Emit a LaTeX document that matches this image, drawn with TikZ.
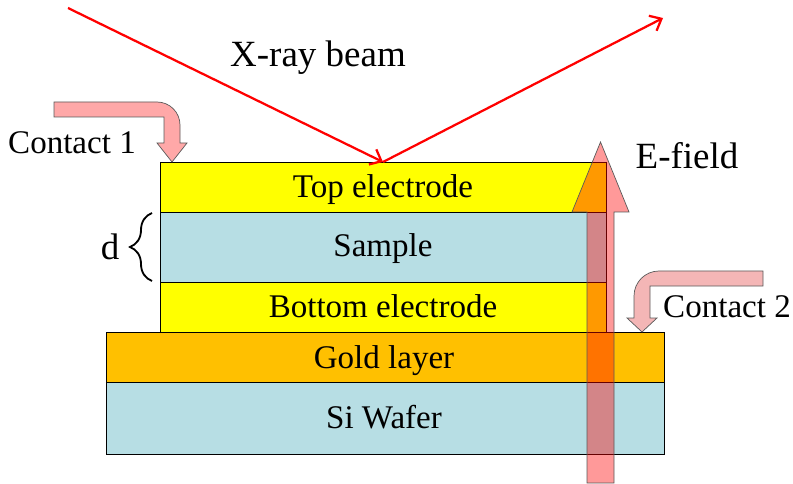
\documentclass[tikz,border=0pt]{standalone}
\usepackage{fontspec}
\setmainfont{Liberation Serif}
\newfontfamily\serifa{Liberation Serif}
\usepackage{xcolor}
\usetikzlibrary{arrows.meta, decorations.pathreplacing}

\definecolor{amarillo}{RGB}{255,255,0}
\definecolor{celeste}{RGB}{183,222,228}
\definecolor{oro}{RGB}{255,192,0}
\definecolor{rosa}{RGB}{255,168,168}
\definecolor{rosaclaro}{RGB}{244,182,182}
\definecolor{borde}{RGB}{90,90,90}

\begin{document}
\begin{tikzpicture}[x=0.025cm, y=-0.025cm,
  capa/.style={draw=black, line width=0.6pt},
  etiqueta/.style={font=\serifa\fontsize{23.5}{26}\selectfont, anchor=base},
  grande/.style={font=\serifa\fontsize{26.3}{30}\selectfont, anchor=base},
  rayo/.style={red, line width=1.6pt, -{Straight Barb[length=7pt,width=12pt]}},
  contacto/.style={draw=borde, line width=0.5pt}]

\useasboundingbox (0,0) rectangle (793,484);

% Capas de la muestra
\draw[capa, fill=celeste] (106,382) rectangle (664,454);
\draw[capa, fill=oro] (106,332) rectangle (664,382);
\draw[capa, fill=amarillo] (160,282) rectangle (606,332);
\draw[capa, fill=celeste] (160,212) rectangle (606,282);
\draw[capa, fill=amarillo] (160,162) rectangle (606,212);

% Nombres de las capas
\node[etiqueta] (top) at (383,198) {Top electrode};
\node[etiqueta] (sample) at (383,257) {Sample};
\node[etiqueta] (bottom) at (383,317) {Bottom electrode};
\node[etiqueta] (gold) at (384,368) {Gold layer};
\node[etiqueta] (wafer) at (384,428) {Si Wafer};

% Espesor d
\draw[line width=1.3pt, decorate, decoration={brace, amplitude=0.55cm}] (152,281) -- (152,213);
\node[grande] (d) at (110,260) {d};

% Campo electrico (semitransparente)
\draw[draw=borde, fill=red, fill opacity=0.4, line width=0.5pt]
  (587,483) -- (587,212) -- (572,212) -- (600.5,142) -- (629,212) -- (614,212) -- (614,483) -- cycle;

% Contactos
\draw[contacto, fill=rosa] (54,102) -- (157,102) .. controls (169.7,102) and (180,112.3) .. (180,125)
  -- (180,143) -- (187,143) -- (172,162) -- (157,143) -- (164,143) -- (164,117) -- (54,117) -- cycle;
\draw[contacto, fill=rosaclaro] (763,271) -- (659,271) .. controls (645.2,271) and (634,282.2) .. (634,296)
  -- (634,318) -- (627,318) -- (642,332) -- (657,318) -- (650,318) -- (650,286) -- (763,286) -- cycle;

% Haz de rayos X
\coordinate (fuente) at (68,8);
\coordinate (impacto) at (383,162);
\coordinate (salida) at (663,18);
\draw[rayo] (fuente) -- (impacto);
\draw[rayo] (impacto) -- (salida);

% Etiquetas
\node[grande] (rayox) at (318,67) {X-ray beam};
\node[grande] (campo) at (687,169) {E-field};
\node[etiqueta] (c1) at (72,154) {Contact 1};
\node[etiqueta] (c2) at (727,317) {Contact 2};

\end{tikzpicture}
\end{document}
